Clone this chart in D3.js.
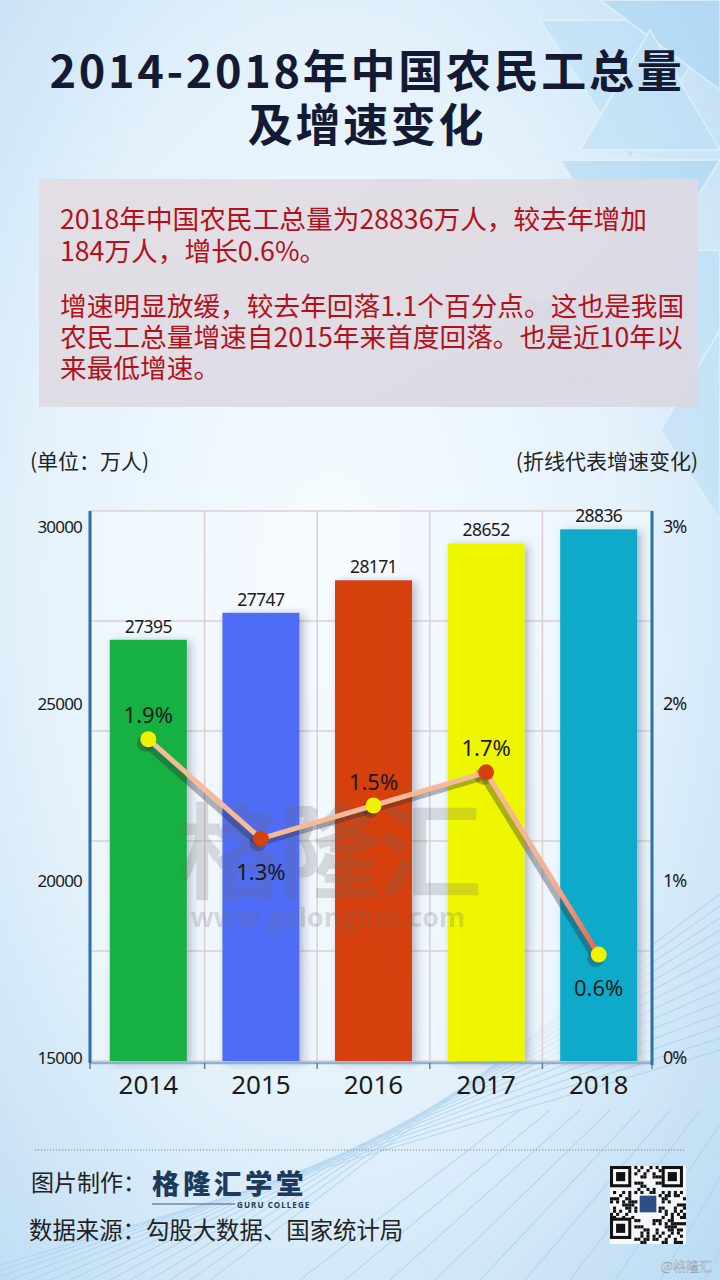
<!DOCTYPE html>
<html><head><meta charset="utf-8">
<script src="https://cdn.jsdelivr.net/npm/d3@7"></script>
<style>
html,body{margin:0;padding:0;background:#dceefa;}
svg{display:block;}
</style></head>
<body>
<svg id="chart" width="720" height="1280"></svg>
<script>
// ---------- data ----------
const years = ["2014","2015","2016","2017","2018"];
const workers = [27395, 27747, 28171, 28652, 28836];     // 万人
const growth = [1.9, 1.3, 1.5, 1.7, 0.6];                 // %
const leftTicks = [15000, 20000, 25000, 30000];
const rightTicks = [0, 1, 2, 3];
const barColors = ["#13b142", "#506cf6", "#d53f10", "#eff700", "#0faaca"];
const pointColors = ["#f1f200", "#d6420f", "#f1f200", "#d6420f", "#f1f200"];
const titleLines = ["2014-2018年中国农民工总量", "及增速变化"];
const bodyLines = [
  "2018年中国农民工总量为28836万人，较去年增加",
  "184万人，增长0.6%。",
  "增速明显放缓，较去年回落1.1个百分点。这也是我国",
  "农民工总量增速自2015年来首度回落。也是近10年以",
  "来最低增速。"
];

const svg = d3.select("#chart");
const W = 720, H = 1280;
const CJK = "'Noto Sans CJK SC','Noto Sans',sans-serif";

// ---------- defs ----------
const defs = svg.append("defs");
const rg = defs.append("radialGradient").attr("id","bg").attr("cx","0.46").attr("cy","0.45").attr("r","0.75");
rg.append("stop").attr("offset","0").attr("stop-color","#f7fcff");
rg.append("stop").attr("offset","0.55").attr("stop-color","#e4f2fc");
rg.append("stop").attr("offset","1").attr("stop-color","#bcdcf3");
const boxG = defs.append("linearGradient").attr("id","boxg").attr("x1","0").attr("y1","0").attr("x2","1").attr("y2","1");
boxG.append("stop").attr("offset","0").attr("stop-color","#e3dde3");
boxG.append("stop").attr("offset","1").attr("stop-color","#d9d8e2");
const sh = defs.append("filter").attr("id","barsh").attr("x","-30%").attr("y","-10%").attr("width","170%").attr("height","130%");
sh.append("feDropShadow").attr("dx",4).attr("dy",2).attr("stdDeviation",4).attr("flood-color","#334").attr("flood-opacity",0.3);
const segG = defs.append("linearGradient").attr("id","lastseg").attr("gradientUnits","userSpaceOnUse");

// ---------- background ----------
svg.append("rect").attr("width",W).attr("height",H).attr("fill","url(#bg)");
const tri = svg.append("g").attr("opacity",0.45);
const tris = [
  [[540,20],[720,20],[630,160]],
  [[600,0],[720,0],[720,90]],
  [[650,30],[720,150],[580,150]],
  [[560,160],[720,160],[640,290]],
  [[620,250],[720,250],[720,420]],
  [[520,300],[640,300],[580,400]],
  [[660,430],[720,330],[720,520]]
];
tri.selectAll("path").data(tris).join("path")
  .attr("d", d => "M" + d.join("L") + "Z")
  .attr("fill", (d,i) => i%2 ? "#9fd0f1" : "#b6dcf5")
  .attr("stroke","#e8f5fd").attr("stroke-width",2);
// perspective lines at the bottom
const lines = svg.append("g").attr("stroke","#a9d1ee").attr("stroke-width",1.2).attr("opacity",0.7).attr("fill","none");
for (let i = 0; i < 14; i++) {
  lines.append("line").attr("x1", -50 + i*20).attr("y1", 1280).attr("x2", 720).attr("y2", 1050 - i*12);
}
for (let i = 0; i < 10; i++) {
  lines.append("line").attr("x1", 300 + i*45).attr("y1", 1280).attr("x2", 520 + i*30).attr("y2", 1110);
}

// ---------- title ----------
svg.append("g").selectAll("text").data(titleLines).join("text")
  .attr("x", 367).attr("y", (d,i) => 88 + i*54)
  .attr("text-anchor","middle")
  .attr("font-family",CJK).attr("font-weight",700).attr("font-size",45)
  .attr("letter-spacing",2.7).attr("fill","#141a33")
  .text(d => d);

// ---------- summary box ----------
svg.append("rect").attr("x",39).attr("y",179).attr("width",659).attr("height",228)
  .attr("fill","url(#boxg)").attr("opacity",0.92);
const bodyY = [229, 261, 316, 347, 378];
svg.append("g").selectAll("text").data(bodyLines).join("text")
  .attr("x", 60).attr("y", (d,i) => bodyY[i])
  .attr("font-family",CJK).attr("font-size",26.7).attr("fill","#b3111a")
  .text(d => d);

// ---------- unit labels ----------
svg.append("text").attr("x",30).attr("y",469).attr("font-family",CJK).attr("font-size",21).attr("fill","#222").text("(单位：万人)");
svg.append("text").attr("x",698).attr("y",469).attr("text-anchor","end").attr("font-family",CJK).attr("font-size",21).attr("fill","#222").text("(折线代表增速变化)");

// ---------- scales ----------
const x = d3.scaleBand().domain(years).range([92, 655]).paddingInner(0.316).paddingOuter(0.158);
const yBar = d3.scaleLinear().domain([21900, 29075]).range([1061, 511]);
const yLeftLbl = d3.scaleLinear().domain([15000, 30000]).range([1058, 527]);
const yRightLbl = d3.scaleLinear().domain([0, 3]).range([1058, 527]);
const yPct = d3.scaleLinear().domain([0, 3]).range([1054, 557]);
const grid = d3.scaleLinear().domain([0, 5]).range([1061, 511]);

const plotL = 90, plotR = 652, plotT = 511, plotB = 1063;

// plot background & grid
svg.append("rect").attr("x",plotL).attr("y",plotT).attr("width",plotR-plotL).attr("height",plotB-plotT)
  .attr("fill","#f4faff").attr("opacity",0.55);
const gg = svg.append("g").attr("stroke","#dcd0cf").attr("stroke-width",1.5);
gg.selectAll("line.h").data(d3.range(0,6)).join("line").attr("class","h")
  .attr("x1",plotL).attr("x2",plotR).attr("y1",d=>grid(d)).attr("y2",d=>grid(d));
const bounds = years.slice(1).map(y => x(y) - x.step()*x.paddingInner()/2);
gg.selectAll("line.v").data(bounds).join("line").attr("class","v")
  .attr("x1",d=>d).attr("x2",d=>d).attr("y1",plotT).attr("y2",plotB);

// ---------- bars ----------
const data = years.map((y,i) => ({year:y, v:workers[i], g:growth[i], i}));
svg.append("g").selectAll("rect").data(data).join("rect")
  .attr("x", d => x(d.year)).attr("width", x.bandwidth())
  .attr("y", d => yBar(d.v)).attr("height", d => yBar.range()[0] - yBar(d.v))
  .attr("fill", d => barColors[d.i]).attr("filter","url(#barsh)");
svg.append("g").selectAll("text").data(data).join("text")
  .attr("x", d => x(d.year) + x.bandwidth()/2).attr("y", d => yBar(d.v) - 7)
  .attr("text-anchor","middle").attr("font-family","'Noto Sans',sans-serif")
  .attr("font-size",17.5).attr("letter-spacing",-0.6).attr("fill","#1a1a1a")
  .text(d => d.v);

// ---------- watermark (over bars, as in the reference) ----------
svg.append("text").attr("x",328).attr("y",891).attr("text-anchor","middle")
  .attr("font-family",CJK).attr("font-weight",700).attr("font-size",104)
  .attr("fill","#6b6b6b").attr("opacity",0.22).attr("letter-spacing",-4).text("格隆汇");
svg.append("text").attr("x",328).attr("y",927).attr("text-anchor","middle")
  .attr("font-family","'Open Sans','Noto Sans',sans-serif").attr("font-weight",700).attr("font-size",27)
  .attr("fill","#6b6b6b").attr("opacity",0.22).text("www.gelonghui.com");

// ---------- axes ----------
const axL = svg.append("g").attr("transform",`translate(${plotL},0)`)
  .call(d3.axisLeft(yLeftLbl).tickValues(leftTicks).tickSize(0).tickPadding(8).tickFormat(d3.format("d")));
axL.select(".domain").remove();
axL.selectAll("text").attr("font-family","'Noto Sans',sans-serif").attr("font-size",17).attr("letter-spacing",-0.8).attr("fill","#1a1a1a");
const axR = svg.append("g").attr("transform",`translate(${plotR},0)`)
  .call(d3.axisRight(yRightLbl).tickValues(rightTicks).tickSize(0).tickPadding(11).tickFormat(d => d + "%"));
axR.select(".domain").remove();
axR.selectAll("text").attr("font-family","'Noto Sans',sans-serif").attr("font-size",18).attr("letter-spacing",-1).attr("fill","#1a1a1a");

// bottom axis
const axB = svg.append("g").attr("transform",`translate(0,${plotB})`)
  .call(d3.axisBottom(x).tickSize(0).tickPadding(8));
axB.select(".domain").attr("stroke","#8fb1cf").attr("stroke-width",2.5).attr("d",`M${plotL},0H${plotR}`);
axB.selectAll("text").attr("font-family","'Noto Sans',sans-serif").attr("font-size",26).attr("fill","#1a1a1a").attr("dy","0.9em");
svg.append("g").attr("stroke","#6f7d8a").attr("stroke-width",1.5).selectAll("line")
  .data([plotL, ...bounds, plotR]).join("line")
  .attr("x1",d=>d).attr("x2",d=>d).attr("y1",plotB).attr("y2",plotB+6);
// vertical blue axis lines
svg.append("line").attr("x1",plotL).attr("x2",plotL).attr("y1",plotT).attr("y2",plotB).attr("stroke","#2d6eab").attr("stroke-width",3);
svg.append("line").attr("x1",plotR).attr("x2",plotR).attr("y1",plotT).attr("y2",plotB+2).attr("stroke","#2d6eab").attr("stroke-width",3);

// ---------- growth line ----------
const cx = d => x(d.year) + x.bandwidth()/2;
const line = d3.line().x(cx).y(d => yPct(d.g));
svg.append("path").datum(data).attr("d", line).attr("fill","none")
  .attr("stroke","#2a2a33").attr("stroke-opacity",0.35).attr("stroke-width",6)
  .attr("transform","translate(-3,5)");
svg.append("g").selectAll("circle").data(data).join("circle")
  .attr("cx", d => cx(d) - 3).attr("cy", d => yPct(d.g) + 4).attr("r",8.5)
  .attr("fill","#2a2a33").attr("opacity",0.3);
const last = data.slice(-2);
segG.attr("x1", cx(last[0])).attr("y1", yPct(last[0].g)).attr("x2", cx(last[1])).attr("y2", yPct(last[1].g));
segG.append("stop").attr("offset","0").attr("stop-color","#f7ba98");
segG.append("stop").attr("offset","0.6").attr("stop-color","#f4b095");
segG.append("stop").attr("offset","1").attr("stop-color","#e8604a");
svg.append("path").datum(data.slice(0,4)).attr("d", line).attr("fill","none")
  .attr("stroke","#f7ba98").attr("stroke-width",5).attr("stroke-linejoin","round");
svg.append("path").datum(last).attr("d", line).attr("fill","none")
  .attr("stroke","url(#lastseg)").attr("stroke-width",5);
svg.append("g").selectAll("circle").data(data).join("circle")
  .attr("cx", cx).attr("cy", d => yPct(d.g)).attr("r",8)
  .attr("fill", d => pointColors[d.i]);
const isLow = d => {
  const prev = data[d.i-1], next = data[d.i+1];
  return (!prev || d.g < prev.g) && (!next || d.g < next.g);
};
svg.append("g").selectAll("text").data(data).join("text")
  .attr("x", cx).attr("y", d => yPct(d.g) + (isLow(d) ? 41 : -16))
  .attr("text-anchor","middle").attr("font-family","'Noto Sans',sans-serif")
  .attr("font-size",22).attr("fill","#1a1a1a")
  .text(d => d.g.toFixed(1) + "%");

// ---------- footer ----------
svg.append("line").attr("x1",35).attr("x2",686).attr("y1",1150).attr("y2",1150)
  .attr("stroke","#7d8793").attr("stroke-width",1).attr("stroke-dasharray","1.2,1.8");
svg.append("text").attr("x",31).attr("y",1191).attr("font-family",CJK).attr("font-size",23).attr("fill","#222").text("图片制作：");
svg.append("text").attr("x",152).attr("y",1194).attr("font-family",CJK).attr("font-weight",900).attr("font-size",27.5)
  .attr("letter-spacing",3.5).attr("fill","#1d3a5b").text("格隆汇学堂");
svg.append("line").attr("x1",152).attr("x2",235).attr("y1",1204).attr("y2",1204).attr("stroke","#6f87a0").attr("stroke-width",1.5);
svg.append("text").attr("x",237).attr("y",1207.5).attr("font-family","'Noto Sans',sans-serif").attr("font-weight",700)
  .attr("font-size",8).attr("letter-spacing",1.1).attr("fill","#1d3a5b").text("GURU COLLEGE");
svg.append("text").attr("x",29).attr("y",1239).attr("font-family",CJK).attr("font-size",23.4).attr("fill","#222").text("数据来源：勾股大数据、国家统计局");

// QR-code-like mark (decorative)
const qr = svg.append("g").attr("transform","translate(610,1166)");
qr.append("rect").attr("width",76).attr("height",78).attr("fill","#f4f8fb");
const cell = 76/25;
const mods = [];
for (let r = 0; r < 25; r++) for (let c = 0; c < 25; c++) {
  const inFinder = (r<8&&c<8)||(r<8&&c>16)||(r>16&&c<8);
  const inLogo = r>=9&&r<=15&&c>=9&&c<=15;
  if (!inFinder && !inLogo && ((r*31 + c*17 + (r*c)%7) % 5 < 2)) mods.push([r,c]);
}
qr.selectAll("rect.m").data(mods).join("rect").attr("class","m")
  .attr("x", d => d[1]*cell).attr("y", d => d[0]*cell*78/76).attr("width",cell).attr("height",cell*78/76).attr("fill","#111");
[[0,0],[0,17],[17,0]].forEach(([r,c]) => {
  qr.append("rect").attr("x",c*cell+cell/2).attr("y",r*cell+cell/2).attr("width",6*cell).attr("height",6*cell)
    .attr("fill","none").attr("stroke","#111").attr("stroke-width",cell);
  qr.append("rect").attr("x",(c+2)*cell).attr("y",(r+2)*cell).attr("width",3*cell).attr("height",3*cell).attr("fill","#111");
});
qr.append("rect").attr("x",9.5*cell).attr("y",9.5*cell).attr("width",6*cell).attr("height",6*cell)
  .attr("fill","#2c4f86").attr("stroke","#fff").attr("stroke-width",1.5);

svg.append("text").attr("x",712).attr("y",1271).attr("text-anchor","end").attr("font-family",CJK).attr("font-size",13)
  .attr("fill","#eef3f8").attr("stroke","#8b97a3").attr("stroke-width",0.4).text("@格隆汇");
</script>
</body></html>
